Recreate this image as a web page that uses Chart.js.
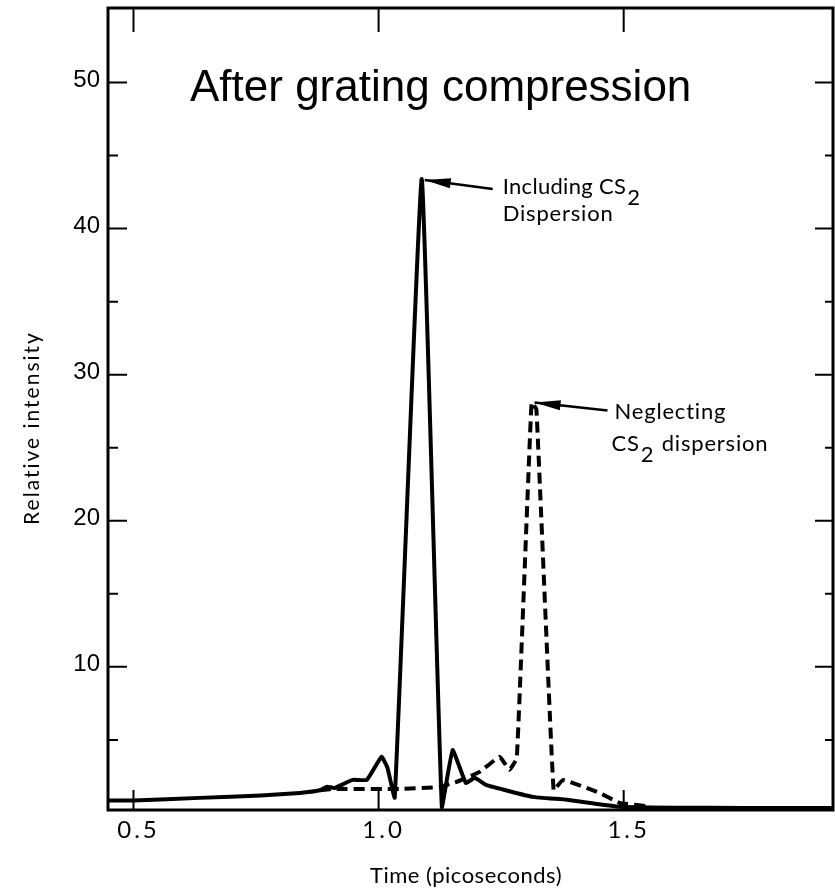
<!DOCTYPE html>
<html>
<head>
<meta charset="utf-8">
<script src="https://cdn.jsdelivr.net/npm/chart.js@4"></script>
<style>
  html, body { margin: 0; padding: 0; background: #fff; }
  #wrap { width: 835px; height: 891px; }
</style>
</head>
<body>
<div id="wrap"><canvas id="pulseChart" width="835" height="891"></canvas></div>
<script>
// time (ps) and relative intensity
const tSolid = [0.448, 0.5, 0.635, 0.76, 0.839, 0.88, 0.895, 0.91, 0.947, 0.976, 1.006, 1.018, 1.033, 1.088, 1.129, 1.151, 1.178, 1.196, 1.22, 1.314, 1.384, 1.492, 1.6, 1.75, 1.927];
const vSolid = [0.85, 0.85, 1.03, 1.2, 1.37, 1.55, 1.8, 1.7, 2.26, 2.26, 3.85, 3.1, 1.05, 43.4, 0.4, 4.3, 2.05, 2.4, 1.9, 1.1, 0.9, 0.42, 0.36, 0.34, 0.34];

const tDashed = [0.88, 0.906, 1.043, 1.124, 1.159, 1.206, 1.247, 1.267, 1.282, 1.312, 1.322, 1.357, 1.376, 1.451, 1.492, 1.553];
const vDashed = [1.55, 1.64, 1.64, 1.78, 2.12, 2.81, 3.84, 2.95, 3.77, 28.1, 27.6, 1.55, 2.26, 1.37, 0.68, 0.45];

const xTicks = [0.5, 1.0, 1.5];
const xTickLabels = ["0.5", "1.0", "1.5"];
const yMajor = [10, 20, 30, 40, 50];
const yMinor = [5, 15, 25, 35, 45];

const toPoints = (ts, vs) => ts.map((t, i) => ({ x: t, y: vs[i] }));

// frame, inward ticks, labels and annotations
const framePlugin = {
    id: "frame",
    afterDraw(chart) {
        const ctx = chart.ctx;
        const x = chart.scales.x;
        const y = chart.scales.y;
        const a = chart.chartArea;
        ctx.save();
        ctx.strokeStyle = "#000";
        ctx.fillStyle = "#000";
        ctx.lineWidth = 3;
        ctx.strokeRect(a.left, a.top, a.right - a.left, a.bottom - a.top);

        ctx.lineWidth = 2;
        ctx.beginPath();
        xTicks.forEach(v => {
            const px = x.getPixelForValue(v);
            ctx.moveTo(px, a.bottom);
            ctx.lineTo(px, a.bottom - 20);
            ctx.moveTo(px, a.top);
            ctx.lineTo(px, a.top + 24);
        });
        yMajor.forEach(v => {
            const py = y.getPixelForValue(v);
            ctx.moveTo(a.left, py);
            ctx.lineTo(a.left + 19, py);
            ctx.moveTo(a.right, py);
            ctx.lineTo(a.right - 18, py);
        });
        yMinor.forEach(v => {
            const py = y.getPixelForValue(v);
            ctx.moveTo(a.left, py);
            ctx.lineTo(a.left + 10, py);
            ctx.moveTo(a.right, py);
            ctx.lineTo(a.right - 8, py);
        });
        ctx.stroke();

        // tick labels
        ctx.font = "24px 'Liberation Sans'";
        ctx.textAlign = "right";
        ctx.textBaseline = "middle";
        yMajor.forEach(v => ctx.fillText(String(v), a.left - 8, y.getPixelForValue(v) - 2));

        ctx.font = "24px Lato";
        ctx.letterSpacing = "3px";
        ctx.textAlign = "center";
        ctx.textBaseline = "alphabetic";
        xTicks.forEach((v, i) => ctx.fillText(xTickLabels[i], x.getPixelForValue(v) + 5, a.bottom + 28));

        // axis titles
        ctx.font = "22px Lato";
        ctx.letterSpacing = "0.5px";
        ctx.fillText("Time (picoseconds)", 466, 883);
        ctx.save();
        ctx.translate(39, 428);
        ctx.rotate(-Math.PI / 2);
        ctx.font = "21px Lato";
        ctx.letterSpacing = "2px";
        ctx.fillText("Relative intensity", 0, 0);
        ctx.restore();

        // panel title
        ctx.letterSpacing = "0px";
        ctx.font = "44px 'Liberation Sans'";
        ctx.textAlign = "left";
        ctx.fillText("After grating compression", 190, 101);

        // arrows to the two peaks
        const arrow = (tx, ty, fx, fy) => {
            ctx.lineWidth = 2.5;
            ctx.beginPath();
            ctx.moveTo(fx, fy);
            ctx.lineTo(tx, ty);
            ctx.stroke();
            const ang = Math.atan2(fy - ty, fx - tx);
            ctx.beginPath();
            ctx.moveTo(tx, ty);
            ctx.lineTo(tx + 26 * Math.cos(ang) - 5 * Math.sin(ang), ty + 26 * Math.sin(ang) + 5 * Math.cos(ang));
            ctx.lineTo(tx + 26 * Math.cos(ang) + 5 * Math.sin(ang), ty + 26 * Math.sin(ang) - 5 * Math.cos(ang));
            ctx.closePath();
            ctx.fill();
        };
        const iS = vSolid.indexOf(Math.max(...vSolid));
        const iD = vDashed.indexOf(Math.max(...vDashed));
        const p1 = { x: x.getPixelForValue(tSolid[iS]), y: y.getPixelForValue(vSolid[iS]) };
        const p2 = { x: x.getPixelForValue(tDashed[iD]), y: y.getPixelForValue(vDashed[iD]) };
        arrow(p1.x + 3, p1.y + 1, p1.x + 71, p1.y + 10);
        arrow(p2.x + 3, p2.y + 0, p2.x + 76, p2.y + 8);

        // annotation text with subscripts
        const sub = (main, s, rest, px, py) => {
            ctx.fillText(main, px, py);
            const w = ctx.measureText(main).width;
            ctx.fillText(s, px + w + 1, py + 11);
            if (rest) {
                const w2 = ctx.measureText(s).width;
                ctx.fillText(rest, px + w + w2 + 2, py);
            }
        };
        ctx.font = "22px Lato";
        ctx.letterSpacing = "0.3px";
        sub("Including CS", "2", "", p1.x + 81, p1.y + 15);
        ctx.letterSpacing = "0.8px";
        ctx.fillText("Dispersion", p1.x + 81, p1.y + 42);
        ctx.fillText("Neglecting", p2.x + 83, p2.y + 17);
        sub("CS", "2", " dispersion", p2.x + 80, p2.y + 49);
        ctx.restore();
    }
};

new Chart(document.getElementById("pulseChart"), {
    type: "line",
    data: {
        datasets: [
            {
                label: "Including CS2 dispersion",
                data: toPoints(tSolid, vSolid),
                borderColor: "#000",
                borderWidth: 4,
                pointRadius: 0,
                tension: 0.1,
                fill: false
            },
            {
                label: "Neglecting CS2 dispersion",
                data: toPoints(tDashed, vDashed),
                borderColor: "#000",
                borderWidth: 4,
                borderDash: [11, 6],
                pointRadius: 0,
                tension: 0.1,
                fill: false
            }
        ]
    },
    options: {
        responsive: false,
        animation: false,
        layout: { padding: { left: 108, right: 2, top: 8, bottom: 81 } },
        plugins: {
            legend: { display: false },
            tooltip: { enabled: false }
        },
        scales: {
            x: { type: "linear", min: 0.448, max: 1.927, display: false },
            y: { min: 0.2, max: 55.1, display: false }
        }
    },
    plugins: [framePlugin]
});
</script>
</body>
</html>
